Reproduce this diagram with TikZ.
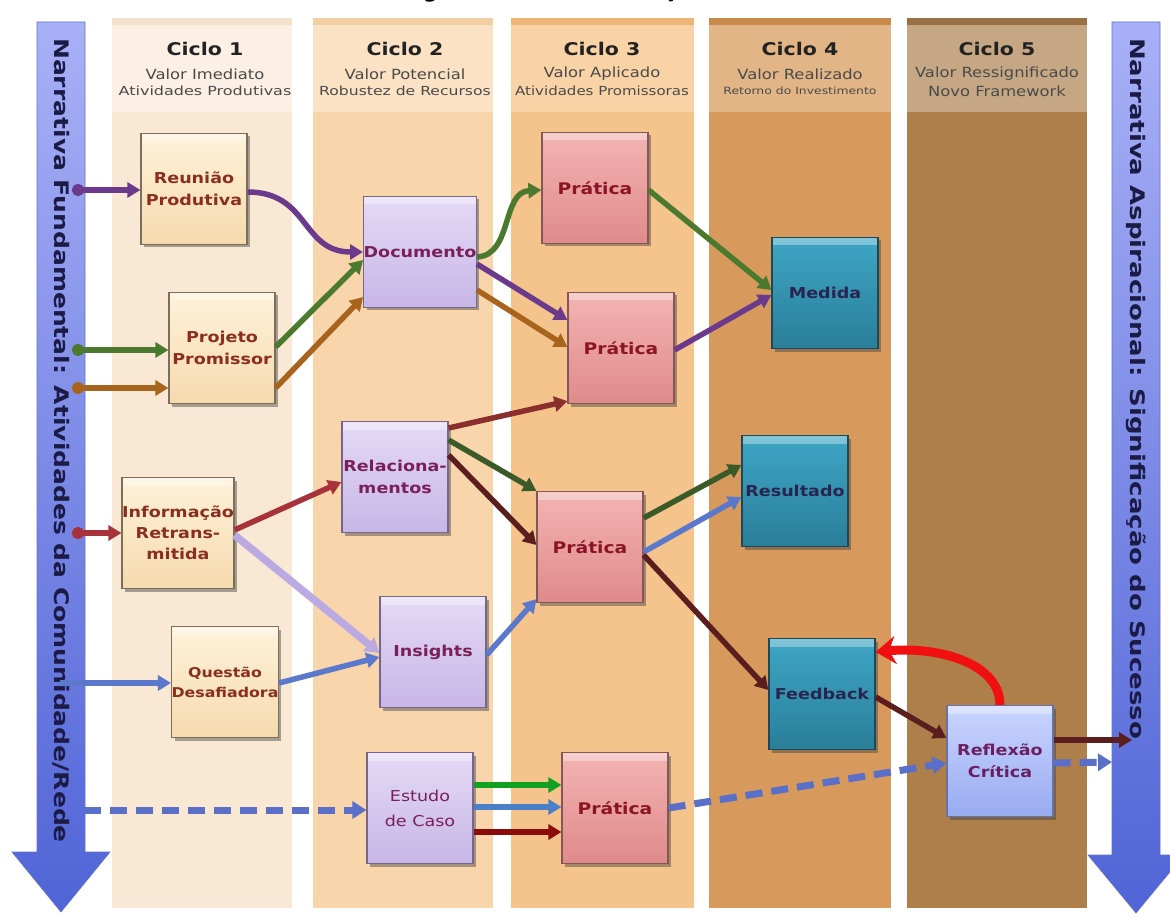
\documentclass[tikz,border=0pt]{standalone}
\usepackage{fontspec}
\setmainfont{DejaVu Sans}
\usepackage{graphicx}
\usetikzlibrary{arrows.meta,shadows,calc}

% column colours: top strip, header, body
\definecolor{cAtop}{HTML}{F3E3CC}\definecolor{cAhead}{HTML}{FBF0E3}\definecolor{cAbody}{HTML}{F8E8D4}
\definecolor{cBtop}{HTML}{F3CFA4}\definecolor{cBhead}{HTML}{FCE2C4}\definecolor{cBbody}{HTML}{F9D5AC}
\definecolor{cCtop}{HTML}{EDB577}\definecolor{cChead}{HTML}{F9D3A6}\definecolor{cCbody}{HTML}{F5C38C}
\definecolor{cDtop}{HTML}{C98B4C}\definecolor{cDhead}{HTML}{E1B585}\definecolor{cDbody}{HTML}{D89A5C}
\definecolor{cEtop}{HTML}{9B7044}\definecolor{cEhead}{HTML}{C6A784}\definecolor{cEbody}{HTML}{AE7F4A}
% box colours
\definecolor{bAt}{HTML}{FEF2DA}\definecolor{bAb}{HTML}{F6DAAE}\definecolor{bAd}{HTML}{7D6E5A}\definecolor{tA}{HTML}{8B2E1E}
\definecolor{bBt}{HTML}{E4DAF6}\definecolor{bBb}{HTML}{C7B6E6}\definecolor{bBd}{HTML}{75668A}\definecolor{tB}{HTML}{7A1F5A}
\definecolor{bCt}{HTML}{F2B4B2}\definecolor{bCb}{HTML}{E08A8A}\definecolor{bCd}{HTML}{845656}\definecolor{tC}{HTML}{8B1525}
\definecolor{bDt}{HTML}{3EA6C4}\definecolor{bDb}{HTML}{2A7E9A}\definecolor{bDd}{HTML}{1C4858}\definecolor{tD}{HTML}{2A2550}
\definecolor{bEt}{HTML}{CAD5FF}\definecolor{bEb}{HTML}{98ABF0}\definecolor{bEd}{HTML}{6573A6}\definecolor{tE}{HTML}{6A2060}
% side arrows
\definecolor{sideTop}{HTML}{A8B0F6}\definecolor{sideBot}{HTML}{5064D6}\definecolor{sideEdge}{HTML}{6472CC}\definecolor{sideTxt}{HTML}{1B1B45}
% connector colours
\definecolor{kPurple}{HTML}{6B3A8C}
\definecolor{kGreen}{HTML}{4B7A2E}
\definecolor{kOrange}{HTML}{A8641C}
\definecolor{kRed}{HTML}{A8323A}
\definecolor{kBlue}{HTML}{5A78CC}
\definecolor{kBrown}{HTML}{8B2E2E}
\definecolor{kDGreen}{HTML}{3A5A28}
\definecolor{kMaroon}{HTML}{5A1E1E}
\definecolor{kLav}{HTML}{BBAAE2}
\definecolor{kLGreen}{HTML}{12A020}
\definecolor{kSky}{HTML}{4A80C8}
\definecolor{kDRed}{HTML}{8B0A0A}
\definecolor{kAlarm}{HTML}{F01010}
\definecolor{kDash}{HTML}{5A6FC8}
\definecolor{hdTxt}{HTML}{222222}
\definecolor{subTxt}{HTML}{4A4A4A}

\newcommand{\sx}[1]{\scalebox{1.17}[1]{#1}}
\newcommand{\fsz}[2]{\fontsize{#1}{#2}\selectfont}

\begin{document}
\begin{tikzpicture}[x=1pt,y=-1pt,
  box/.style={minimum width=106pt, minimum height=111pt, inner sep=0pt, align=center,
    line width=1.2pt, font=\bfseries\fsz{15}{22},
    drop shadow={shadow xshift=3pt, shadow yshift=-3pt, opacity=0.45, fill=black!75},
    path picture={\fill[white,opacity=0.35] (path picture bounding box.north west)
      rectangle ($(path picture bounding box.north east)+(0,8)$);}},
  boxA/.style={box, top color=bAt, bottom color=bAb, draw=bAd, text=tA},
  boxB/.style={box, top color=bBt, bottom color=bBb, draw=bBd, text=tB},
  boxC/.style={box, top color=bCt, bottom color=bCb, draw=bCd, text=tC},
  boxD/.style={box, top color=bDt, bottom color=bDb, draw=bDd, text=tD},
  boxE/.style={box, top color=bEt, bottom color=bEb, draw=bEd, text=tE},
  hd/.style={font=\bfseries\fsz{17.5}{18}, text=hdTxt, inner sep=0pt},
  sub/.style={font=\fsz{14}{14}, text=subTxt, inner sep=0pt},
  subs/.style={font=\fsz{12.5}{13}, text=subTxt, inner sep=0pt},
  sidetext/.style={rotate=-90, anchor=west, text=sideTxt, font=\bfseries\fsz{20}{20}, inner sep=0pt},
  link/.style={line width=5.5pt, -{Triangle[length=13pt,width=15pt]}},
  blob/.style={line width=5.5pt, {Circle[length=12pt]}-{Triangle[length=13pt,width=15pt]}},
  dlink/.style={line width=7pt, dash pattern=on 17pt off 9pt, -{Triangle[length=14pt,width=17pt]}}
]
\useasboundingbox (0,0) rectangle (1170,917);
\clip (0,0) rectangle (1170,917);
\fill[white] (0,0) rectangle (1170,917);

% heading, cut by the top edge
\node[anchor=base, font=\bfseries\fsz{17}{17}, inner sep=0pt] (title) at (603,-1) {\sx{Figura 1: Ciclos de Criação de Valor}};

% cycle columns
\fill[cAbody] (112,18) rectangle (292,908); \fill[cAhead] (112,18) rectangle (292,112); \fill[cAtop] (112,18) rectangle (292,25);
\fill[cBbody] (313,18) rectangle (493,908); \fill[cBhead] (313,18) rectangle (493,112); \fill[cBtop] (313,18) rectangle (493,25);
\fill[cCbody] (511,18) rectangle (694,908); \fill[cChead] (511,18) rectangle (694,112); \fill[cCtop] (511,18) rectangle (694,25);
\fill[cDbody] (709,18) rectangle (891,908); \fill[cDhead] (709,18) rectangle (891,112); \fill[cDtop] (709,18) rectangle (891,25);
\fill[cEbody] (907,18) rectangle (1087,908); \fill[cEhead] (907,18) rectangle (1087,112); \fill[cEtop] (907,18) rectangle (1087,25);

% column headings
\node[hd] (h1) at (205,49) {\sx{Ciclo 1}};
\node[sub] (h1a) at (205,74) {\sx{Valor Imediato}};
\node[subs] (h1b) at (205,91) {\scalebox{1.28}[1]{Atividades Produtivas}};
\node[hd] (h2) at (405,49) {\sx{Ciclo 2}};
\node[sub] (h2a) at (405,74) {\sx{Valor Potencial}};
\node[subs] (h2b) at (405,91) {\scalebox{1.25}[1]{Robustez de Recursos}};
\node[hd] (h3) at (602,49) {\sx{Ciclo 3}};
\node[sub] (h3a) at (602,74) {\sx{Valor Aplicado}};
\node[subs] (h3b) at (602,91) {\scalebox{1.2}[1]{Atividades Promissoras}};
\node[hd] (h4) at (800,49) {\sx{Ciclo 4}};
\node[sub] (h4a) at (800,74) {\sx{Valor Realizado}};
\node[subs, font=\fsz{10}{10}] (h4b) at (800,91) {\scalebox{1.24}[1]{Retorno do Investimento}};
\node[hd] (h5) at (997,49) {\sx{Ciclo 5}};
\node[sub] (h5a) at (997,74) {\sx{Valor Ressignificado}};
\node[sub] (h5b) at (997,91) {\sx{Novo Framework}};

% narrative arrows on both sides
\path[shade, top color=sideTop, bottom color=sideBot, draw=sideEdge, line width=0.6pt]
  (37,22) -- (85,22) -- (85,852) -- (110,852) -- (61,912) -- (12,852) -- (37,852) -- cycle;
\path[shade, top color=sideTop, bottom color=sideBot, draw=sideEdge, line width=0.6pt]
  (1112,22) -- (1160,22) -- (1160,855) -- (1184,855) -- (1136,913) -- (1088,855) -- (1112,855) -- cycle;
\node[sidetext] (lnar) at (61,38) {\scalebox{1.25}[1]{Narrativa Fundamental: Atividades da Comunidade/Rede}};
\node[sidetext] (rnar) at (1136,38) {\scalebox{1.3}[1]{Narrativa Aspiracional: Significação do Sucesso}};

% value boxes
\node[boxA] (reu) at (194,189) {\sx{Reunião}\\\sx{Produtiva}};
\node[boxA] (pro) at (222,348) {\sx{Projeto}\\\sx{Promissor}};
\node[boxA, font=\bfseries\fsz{15}{21}] (inf) at (178,533) {\sx{Informação}\\\sx{Retrans-}\\\sx{mitida}};
\node[boxA, font=\bfseries\fsz{13.5}{20}] (que) at (225,682) {\sx{Questão}\\\sx{Desafiadora}};
\node[boxB] (doc) at (420,252) {\sx{Documento}};
\node[boxB] (rel) at (395,477) {\sx{Relaciona-}\\\sx{mentos}};
\node[boxB] (ins) at (433,652) {\sx{Insights}};
\node[boxB, font=\fsz{15}{25}] (est) at (420,808) {\sx{Estudo}\\\sx{de Caso}};
\node[boxC, font=\bfseries\fsz{16}{22}] (pr1) at (595,188) {\sx{Prática}};
\node[boxC, font=\bfseries\fsz{16}{22}] (pr2) at (621,348) {\sx{Prática}};
\node[boxC, font=\bfseries\fsz{16}{22}] (pr3) at (590,547) {\sx{Prática}};
\node[boxC, font=\bfseries\fsz{16}{22}] (pr4) at (615,808) {\sx{Prática}};
\node[boxD] (med) at (825,293) {\sx{Medida}};
\node[boxD] (res) at (795,491) {\sx{Resultado}};
\node[boxD] (fbk) at (822,694) {\sx{Feedback}};
\node[boxE] (ref) at (1000,761) {\sx{Reflexão}\\\sx{Crítica}};

% start points on the left narrative, end points on the right one
\coordinate (s1) at (72,190);
\coordinate (s2) at (72,350);
\coordinate (s3) at (72,388);
\coordinate (s4) at (72,533);
\coordinate (s5) at (60,683);
\coordinate (s6) at (84,810);
\coordinate (e1) at (1132,740);
\coordinate (e2) at (1112,762);

% from the community narrative into cycle 1 and 2
\draw[blob, kPurple] (s1) -- (reu.west |- s1);
\draw[blob, kGreen] (s2) -- (pro.west |- s2);
\draw[blob, kOrange] (s3) -- (pro.west |- s3);
\draw[blob, kRed] (s4) -- (inf.west |- s4);
\draw[link, kBlue] (s5) -- (que.west |- s5);
\draw[dlink, kDash] (s6) -- (est.west |- s6);

% cycle 1 to cycle 2
\draw[link, kPurple] ($(reu.east)+(0,3)$) .. controls ($(reu.east)+(62,3)$) and ($(doc.west)+(-62,0)$) .. (doc.west);
\draw[link, kGreen] ($(pro.east)+(0,-1)$) -- ($(doc.west)+(0,8)$);
\draw[link, kOrange] ($(pro.east)+(0,40)$) -- ($(doc.west)+(0,45)$);
\draw[link, kRed] ($(inf.east)+(0,-3)$) -- ($(rel.west)+(0,5)$);
\draw[line width=7.5pt, kLav, -{Triangle[length=14pt,width=17pt]}] ($(inf.east)+(0,2)$) -- ($(ins.west)+(0,1)$);
\draw[link, kBlue] ($(que.east)+(0,1)$) -- ($(ins.west)+(0,5)$);

% cycle 2 to cycle 3
\draw[link, kGreen] ($(doc.east)+(0,5)$) .. controls ($(doc.east)+(36,3)$) and ($(pr1.west)+(-40,4)$) .. ($(pr1.west)+(0,2)$);
\draw[link, kPurple] ($(doc.east)+(0,12)$) -- ($(pr2.west)+(0,-28)$);
\draw[link, kOrange] ($(doc.east)+(0,38)$) -- ($(pr2.west)+(0,-1)$);
\draw[link, kBrown] ($(rel.east)+(0,-49)$) -- ($(pr2.south west)+(0,-3)$);
\draw[link, kDGreen] ($(rel.east)+(0,-37)$) -- (pr3.north west);
\draw[link, kMaroon] ($(rel.east)+(0,-22)$) -- ($(pr3.west)+(0,-2)$);
\draw[link, kBlue] ($(ins.east)+(0,3)$) -- ($(pr3.south west)+(0,-4)$);
\draw[link, kLGreen] ($(est.east)+(0,-23)$) -- ($(pr4.west)+(0,-23)$);
\draw[link, kSky] ($(est.east)+(0,-1)$) -- ($(pr4.west)+(0,-1)$);
\draw[link, kDRed] ($(est.east)+(0,24)$) -- ($(pr4.west)+(0,24)$);

% cycle 3 to cycle 4
\draw[link, kGreen] ($(pr1.east)+(0,2)$) -- ($(med.west)+(0,-3)$);
\draw[link, kPurple] ($(pr2.east)+(0,2)$) -- ($(med.west)+(0,2)$);
\draw[link, kDGreen] ($(pr3.east)+(0,-29)$) -- ($(res.west)+(0,-26)$);
\draw[link, kBlue] ($(pr3.east)+(0,5)$) -- ($(res.west)+(0,6)$);
\draw[link, kMaroon] ($(pr3.east)+(0,8)$) -- ($(fbk.west)+(0,-4)$);
\draw[dlink, kDash] (pr4.east) -- ($(ref.west)+(0,2)$);

% cycle 4 to cycle 5 and the aspirational narrative
\draw[link, kMaroon] ($(fbk.east)+(0,3)$) -- ($(ref.west)+(0,-23)$);
\draw[line width=9pt, kAlarm, -{Stealth[length=20pt,width=28pt]}] (ref.north) .. controls ($(ref.north)+(0,-42)$) and ($(fbk.east)+(62,-48)$) .. ($(fbk.east)+(0,-42)$);
\draw[link, kMaroon] ($(ref.east)+(0,-21)$) -- (e1);
\draw[dlink, kDash] ($(ref.east)+(0,2)$) -- (e2);
\end{tikzpicture}
\end{document}
